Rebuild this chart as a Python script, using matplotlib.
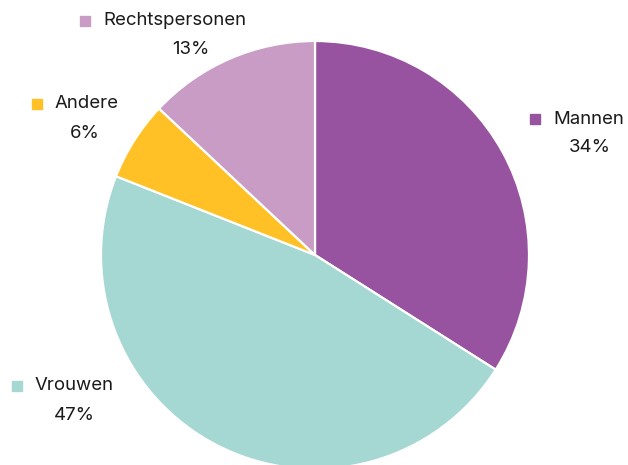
import matplotlib
matplotlib.use("Agg")
import matplotlib.pyplot as plt

categories = ["Mannen", "Vrouwen", "Andere", "Rechtspersonen"]
shares = [34, 47, 6, 13]
colors = ["#9853A0", "#A5D7D3", "#FFC125", "#C89CC4"]

W, H = 628, 465
fig = plt.figure(figsize=(W / 100, H / 100), dpi=100)
ax = fig.add_axes([0, 0, 1, 1])

center = (315, H - 255)
radius = 214
ax.pie(shares, colors=colors, startangle=90, counterclock=False,
       center=center, radius=radius, frame=True,
       wedgeprops=dict(edgecolor="white", linewidth=1.6))
ax.set_xlim(0, W)
ax.set_ylim(0, H)
ax.set_aspect("equal")
ax.axis("off")

# label anchors: (marker x, name y, percent centre x, percent y) in pixels
label_pos = {
    "Mannen": (535, 119, 590, 148),
    "Vrouwen": (17, 386, 74, 415),
    "Andere": (37, 104, 85, 133),
    "Rechtspersonen": (85, 21, 191, 50),
}
font = dict(family=["Inter", "DejaVu Sans"], fontsize=13.4, color="#1a1a1a")
for name, val, col in zip(categories, shares, colors):
    mx, ny, px, py = label_pos[name]
    ax.plot([mx], [H - ny], marker="s", markersize=6.8, color=col,
            linestyle="none")
    ax.text(mx + 18, H - ny, name, ha="left", va="center", **font)
    ax.text(px, H - py, f"{val}%", ha="center", va="center", **font)

fig.savefig("out.png", dpi=100, facecolor="white")
